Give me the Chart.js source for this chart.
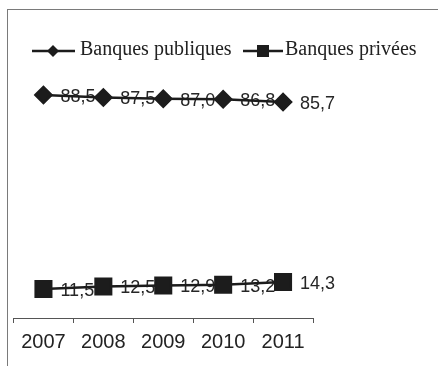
<!DOCTYPE html>
<html>
<head>
<meta charset="utf-8">
<script src="https://cdn.jsdelivr.net/npm/chart.js"></script>
<style>
  html, body { margin: 0; padding: 0; background: #fff; }
  #wrap { position: relative; width: 438px; height: 366px; }
  #frame { position: absolute; left: 7px; top: 9px; right: 0; bottom: 0;
           border-left: 1px solid #7a7a7a; border-top: 1px solid #7a7a7a; }
  canvas { position: absolute; left: 0; top: 0; }
</style>
</head>
<body>
<div id="wrap">
  <div id="frame"></div>
  <canvas id="chart" width="438" height="366"></canvas>
</div>
<script>
const years = ['2007', '2008', '2009', '2010', '2011'];
const publiques = [88.5, 87.5, 87.0, 86.8, 85.7];
const privees = [11.5, 12.5, 12.9, 13.2, 14.3];
const seriesNames = ['Banques publiques', 'Banques privées'];

const ink = '#1c1c1c';

function fmt(v) {
  return v.toFixed(1).replace('.', ',');
}

// legend drawn by hand: line with marker through it, serif text
const legendPlugin = {
  id: 'hlegend',
  afterDraw(chart) {
    const ctx = chart.ctx;
    const y = 51;
    ctx.save();
    ctx.strokeStyle = ink;
    ctx.fillStyle = ink;
    ctx.lineWidth = 2.5;
    // entry 1
    ctx.beginPath(); ctx.moveTo(32, y); ctx.lineTo(75, y); ctx.stroke();
    ctx.beginPath();
    ctx.moveTo(53, y - 6); ctx.lineTo(59, y); ctx.lineTo(53, y + 6); ctx.lineTo(47, y);
    ctx.closePath(); ctx.fill();
    // entry 2
    ctx.beginPath(); ctx.moveTo(243, y); ctx.lineTo(283, y); ctx.stroke();
    ctx.fillRect(257, y - 6, 12, 12);
    ctx.font = '20px "Liberation Serif", "Times New Roman", serif';
    ctx.textBaseline = 'middle';
    ctx.textAlign = 'left';
    ctx.fillStyle = '#222';
    ctx.fillText(seriesNames[0], 80, y - 1);
    ctx.fillText(seriesNames[1], 285, y - 1);
    ctx.restore();
  }
};

// value labels sit right of each point, under the lines and markers
const valueLabels = {
  id: 'valueLabels',
  beforeDatasetsDraw(chart) {
    const ctx = chart.ctx;
    ctx.save();
    ctx.font = '18px "Liberation Sans", Arial, sans-serif';
    ctx.fillStyle = '#262626';
    ctx.textBaseline = 'middle';
    ctx.textAlign = 'left';
    chart.data.datasets.forEach((ds, i) => {
      chart.getDatasetMeta(i).data.forEach((pt, j) => {
        ctx.fillText(fmt(ds.data[j]), pt.x + 17, pt.y + 2);
      });
    });
    ctx.restore();
  }
};

new Chart(document.getElementById('chart'), {
  type: 'line',
  data: {
    labels: years,
    datasets: [{
      label: seriesNames[0],
      data: publiques,
      borderColor: ink,
      backgroundColor: ink,
      borderWidth: 2.5,
      pointStyle: 'rectRot',
      pointRadius: 8,
      tension: 0
    }, {
      label: seriesNames[1],
      data: privees,
      borderColor: ink,
      backgroundColor: ink,
      borderWidth: 2.5,
      pointStyle: 'rect',
      pointRadius: 11,
      tension: 0
    }]
  },
  options: {
    responsive: false,
    animation: false,
    layout: { padding: { left: 11, right: 125, top: 66, bottom: 5 } },
    plugins: { legend: { display: false }, tooltip: { enabled: false } },
    scales: {
      x: {
        offset: true,
        grid: { offset: true, drawOnChartArea: false, tickLength: 5, color: '#555', lineWidth: 1 },
        border: { display: true, color: '#555', width: 1 },
        ticks: {
          color: '#222',
          padding: 7,
          font: { family: '"Liberation Sans", Arial, sans-serif', size: 20 }
        }
      },
      y: { display: false, min: 0, max: 100 }
    }
  },
  plugins: [valueLabels, legendPlugin]
});
</script>
</body>
</html>
